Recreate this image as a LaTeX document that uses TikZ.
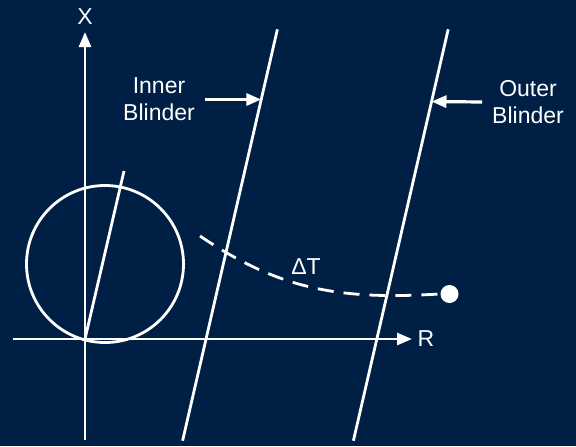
\documentclass[tikz,border=0pt]{standalone}
\usepackage{fontspec}
\setmainfont{Liberation Sans}
\usetikzlibrary{arrows.meta}
\definecolor{navy}{HTML}{001F45}

\begin{document}
\begin{tikzpicture}[x=0.5pt,y=-0.5pt,line width=1.4pt,white,
    every node/.style={font=\fontsize{11.5}{13.5}\selectfont,text=white,align=center},
    arr/.style={-{Triangle[length=7.5pt,width=6pt]}}]
    \fill[navy] (0,0) rectangle (576,446);
    \useasboundingbox (0,0) rectangle (576,446);

    \coordinate (o) at (85,339);
    \coordinate (xbot) at (85,440);
    \coordinate (xtop) at (85,32);
    \coordinate (rleft) at (13,339);
    \coordinate (rright) at (412,339);
    \node (X) at (85,17) {X};
    \node (R) at (426,339) {R};

    \coordinate (ib1) at (182.6,440.7);
    \coordinate (ib2) at (277.4,29.3);
    \coordinate (ob1) at (353.4,440.7);
    \coordinate (ob2) at (448.2,29.3);
    \coordinate (ibhit) at (261.3,99.5);
    \coordinate (obhit) at (431.5,101.5);
    \node (inner) at (159,99.5) {Inner\\Blinder};
    \node (outer) at (528,102) {Outer\\Blinder};

    \coordinate (mho) at (124,171);
    \node (dT) at (306,267) {ΔT};
    \node[circle,fill=white,minimum size=9pt,inner sep=0pt] (fault) at (449.5,294) {};

    % axes
    \draw[arr] (xbot) -- (xtop);
    \draw[arr] (rleft) -- (rright);

    % mho circle
    \draw (105,264) circle[radius=78.5];
    \draw (o) -- (mho);

    % blinders
    \draw (ib1) -- (ib2);
    \draw (ob1) -- (ob2);
    \draw[arr,line width=1.6pt] (inner.east) ++(2,0) -- (ibhit);
    \draw[arr,line width=1.6pt] (outer.west) ++(-2,0) -- (obhit);

    % swing
    \draw[dash pattern=on 8pt off 5pt] (200,236) .. controls (280,290) and (340,300) .. (fault.west);
  \end{tikzpicture}
\end{document}
